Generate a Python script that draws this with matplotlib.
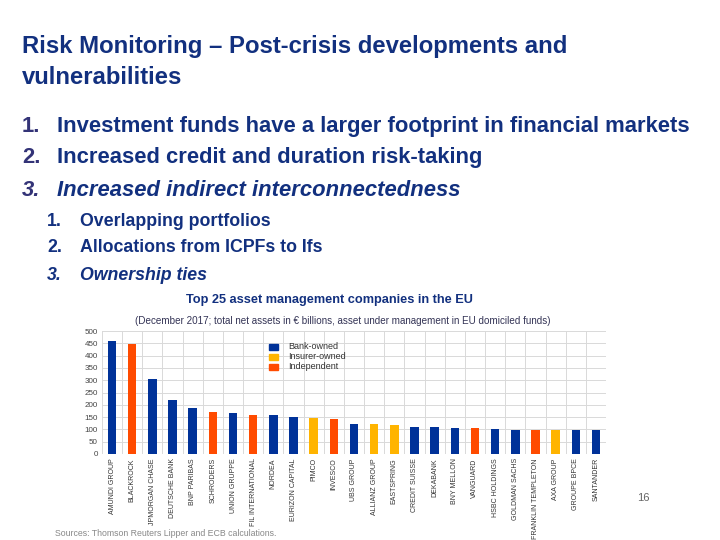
import matplotlib
matplotlib.use("Agg")
import matplotlib.pyplot as plt
import numpy as np
from matplotlib.patches import Rectangle

plt.rcParams['font.family'] = ['Liberation Sans', 'DejaVu Sans']

# data
companies = ["AMUNDI GROUP", "BLACKROCK", "JPMORGAN CHASE", "DEUTSCHE BANK", "BNP PARIBAS",
             "SCHRODERS", "UNION GRUPPE", "FIL INTERNATIONAL", "NORDEA", "EURIZON CAPITAL",
             "PIMCO", "INVESCO", "UBS GROUP", "ALLIANZ GROUP", "EASTSPRING",
             "CREDIT SUISSE", "DEKABANK", "BNY MELLON", "VANGUARD", "HSBC HOLDINGS",
             "GOLDMAN SACHS", "FRANKLIN TEMPLETON", "AXA GROUP", "GROUPE BPCE", "SANTANDER"]
assets = [461, 449, 305, 218, 188, 170, 165, 159, 159, 149, 145, 141, 123,
          122, 119, 111, 108, 107, 104, 103, 99, 99, 99, 97, 96]
owner = ["bank", "indep", "bank", "bank", "bank", "indep", "bank", "indep", "bank", "bank",
         "ins", "indep", "bank", "ins", "ins", "bank", "bank", "bank", "indep", "bank",
         "bank", "indep", "ins", "bank", "bank"]
owner_names = {"bank": "Bank-owned", "ins": "Insurer-owned", "indep": "Independent"}
owner_colors = {"bank": "#003299", "ins": "#FFB400", "indep": "#FF4B00"}
yticks = list(range(0, 501, 50))

navy = "#12307F"

fig = plt.figure(figsize=(7.2, 5.4), dpi=100)
fig.patch.set_facecolor("white")

# slide header
fig.text(22/720, 1-47/540, "Risk Monitoring \u2013 Post-crisis developments and",
         fontsize=17.2, color=navy, weight="bold", va="center", ha="left")
fig.text(22/720, 1-78/540, "vulnerabilities", fontsize=17.2, color=navy, weight="bold",
         va="center", ha="left")

items = ["Investment funds have a larger footprint in financial markets",
         "Increased credit and duration risk-taking",
         "Increased indirect interconnectedness"]
for i, t in enumerate(items):
    y = 1 - (126 + 32*i)/540
    st = "italic" if i == 2 else "normal"
    fig.text(22/720, y, f"{i+1}.", fontsize=15.8, color="#333377", weight="bold",
             style=st, va="center")
    fig.text(57/720, y, t, fontsize=15.8, color=navy, weight="bold", style=st, va="center")

subitems = ["Overlapping portfolios", "Allocations from ICPFs to Ifs", "Ownership ties"]
for i, (t, yy) in enumerate(zip(subitems, [221, 248, 276])):
    st = "italic" if i == 2 else "normal"
    fig.text(47/720, 1-yy/540, f"{i+1}.", fontsize=12.8, color=navy, weight="bold",
             style=st, va="center")
    fig.text(80/720, 1-yy/540, t, fontsize=12.8, color=navy, weight="bold", style=st,
             va="center")

fig.text(329/720, 1-300/540, "Top 25 asset management companies in the EU",
         fontsize=9.2, color=navy, weight="bold", ha="center", va="center")
fig.text(343/720, 1-321/540,
         "(December 2017; total net assets in \u20ac billions, asset under management in EU domiciled funds)",
         fontsize=7.1, color="#333355", ha="center", va="center")

# chart
ax = fig.add_axes([102/720, 1-454/540, 504/720, 123/540])
x = np.arange(len(companies))
ax.bar(x, assets, width=0.42, color=[owner_colors[o] for o in owner], zorder=3)
ax.set_xlim(-0.5, len(companies)-0.5)
ax.set_ylim(0, 500)
ax.set_yticks(yticks)
ax.set_yticklabels([str(v) for v in yticks], fontsize=5.8, color="#444444")
ax.set_xticks(x)
ax.set_xticklabels(companies, rotation=90, fontsize=5, color="#333333")
ax.set_xticks(np.arange(-0.5, len(companies)), minor=True)
ax.grid(True, which="minor", axis="x", color="#d9d9d9", linewidth=0.7, zorder=0)
ax.grid(True, which="major", axis="y", color="#d9d9d9", linewidth=0.7, zorder=0)
ax.tick_params(axis="both", which="both", length=0, pad=3)
for s in ax.spines.values():
    s.set_visible(False)

# legend
for i, k in enumerate(["bank", "ins", "indep"]):
    yy = 1 - (346.5 + 10*i)/540
    fig.patches.append(Rectangle((269/720, yy - 3/540), 9/720, 6/540,
                                 transform=fig.transFigure, color=owner_colors[k]))
    fig.text(288/720, yy, owner_names[k], fontsize=6.5, color="#333333", va="center")

fig.text(643/720, 1-498/540, "16", fontsize=8, color="#666666", ha="center", va="center")
fig.text(55/720, 1-533/540, "Sources: Thomson Reuters Lipper and ECB calculations.",
         fontsize=6.3, color="#888888", va="center")

fig.savefig("out.png", dpi=100)
